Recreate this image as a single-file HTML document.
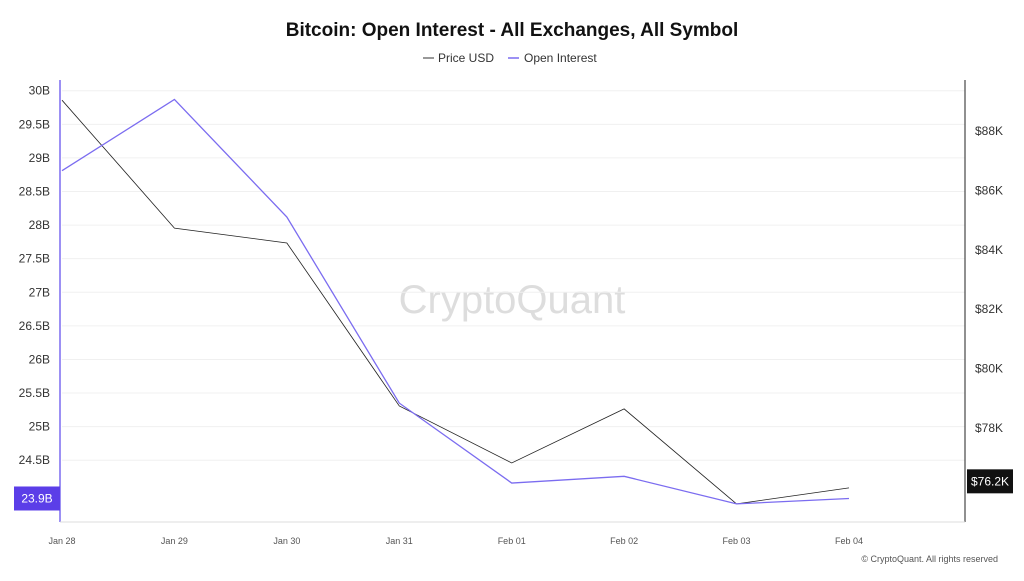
<!DOCTYPE html>
<html><head><meta charset="utf-8"><style>
body{margin:0;background:#fff;font-family:"Liberation Sans",sans-serif;}
svg text{font-family:"Liberation Sans",sans-serif;}
</style></head><body>
<svg id="chart" width="1024" height="576" viewBox="0 0 1024 576" xmlns="http://www.w3.org/2000/svg">
<text x="512" y="36" text-anchor="middle" font-size="19" font-weight="bold" fill="#111">Bitcoin: Open Interest - All Exchanges, All Symbol</text>
<g>
<line x1="423" y1="58" x2="434" y2="58" stroke="#333" stroke-width="1"/>
<text x="438" y="62" font-size="12" fill="#333">Price USD</text>
<line x1="508" y1="58" x2="519" y2="58" stroke="#7b6cf0" stroke-width="1.5"/>
<text x="524" y="62" font-size="12" fill="#333">Open Interest</text>
</g>
<text x="512" y="313" text-anchor="middle" font-size="40" fill="#ddd">CryptoQuant</text>
<g id="grid"></g><g id="axes"></g><g id="series"></g>
<text x="998" y="562" text-anchor="end" font-size="9" fill="#555">© CryptoQuant. All rights reserved</text>
</svg>
<script>
const categories=["Jan 28","Jan 29","Jan 30","Jan 31","Feb 01","Feb 02","Feb 03","Feb 04"];
const openInterest=[28.81,29.87,28.12,25.35,24.16,24.26,23.85,23.93];
const priceUsd=[89.04,84.73,84.23,78.74,76.82,78.64,75.44,75.98];
const leftTicks=[24.5,25,25.5,26,26.5,27,27.5,28,28.5,29,29.5,30];
const rightTicks=[78,80,82,84,86,88];
const NS="http://www.w3.org/2000/svg";
const X0=62,X1=849,YT=80,YB=522;
const xs=i=>X0+(X1-X0)*i/(categories.length-1);
const yL=v=>YT+(30.16-v)/(30.16-23.58)*(YB-YT);
const yR=v=>YT+(89.72-v)/(89.72-74.83)*(YB-YT);
function mk(t,a,p){const e=document.createElementNS(NS,t);for(const k in a)e.setAttribute(k,a[k]);(p||document.getElementById('chart')).appendChild(e);return e;}
const g=document.getElementById('grid'),ax=document.getElementById('axes'),s=document.getElementById('series');
leftTicks.forEach(v=>{const y=yL(v);
const l=mk('line',{x1:62,x2:965,y1:y,y2:y,stroke:'#f0f0f0'},g);


const t=mk('text',{x:50,y:y+4,'text-anchor':'end','font-size':12,fill:'#333'},ax);t.textContent=v+'B';

});
rightTicks.forEach(v=>{const y=yR(v);
const t=mk('text',{x:975,y:y+4,'font-size':12,fill:'#333'},ax);t.textContent='$'+v+'K';

});
categories.forEach((c,i)=>{const t=mk('text',{x:xs(i),y:544,'text-anchor':'middle','font-size':9,fill:'#555'},ax);t.textContent=c;

});
const la=mk('line',{x1:60,x2:60,y1:YT,y2:YB,stroke:'#7b6cf0','stroke-width':1.5},ax);


const ra=mk('line',{x1:965,x2:965,y1:YT,y2:YB,stroke:'#222','stroke-width':1},ax);


const bl=mk('line',{x1:60,x2:965,y1:YB,y2:YB,stroke:'#ddd'},ax);


const pp=mk('polyline',{points:priceUsd.map((v,i)=>xs(i)+','+yR(v)).join(' '),fill:'none',stroke:'#222','stroke-width':0.8},s);


const op=mk('polyline',{points:openInterest.map((v,i)=>xs(i)+','+yL(v)).join(' '),fill:'none',stroke:'#7b6cf0','stroke-width':1.3},s);


const lastOI=openInterest[openInterest.length-1],ly=yL(lastOI);
const lb=mk('rect',{x:14,y:ly-12,width:46,height:24,fill:'#5b3ee8'},ax);


const lt=mk('text',{x:37,y:ly+4,'text-anchor':'middle','font-size':12,fill:'#fff'},ax);lt.textContent=lastOI.toFixed(1)+'B';


const lastP=76.2,py=yR(lastP);
const rb=mk('rect',{x:967,y:py-12,width:46,height:24,fill:'#111'},ax);


const rt=mk('text',{x:990,y:py+4,'text-anchor':'middle','font-size':12,fill:'#fff'},ax);rt.textContent='$'+lastP+'K';


</script>
</body></html>
